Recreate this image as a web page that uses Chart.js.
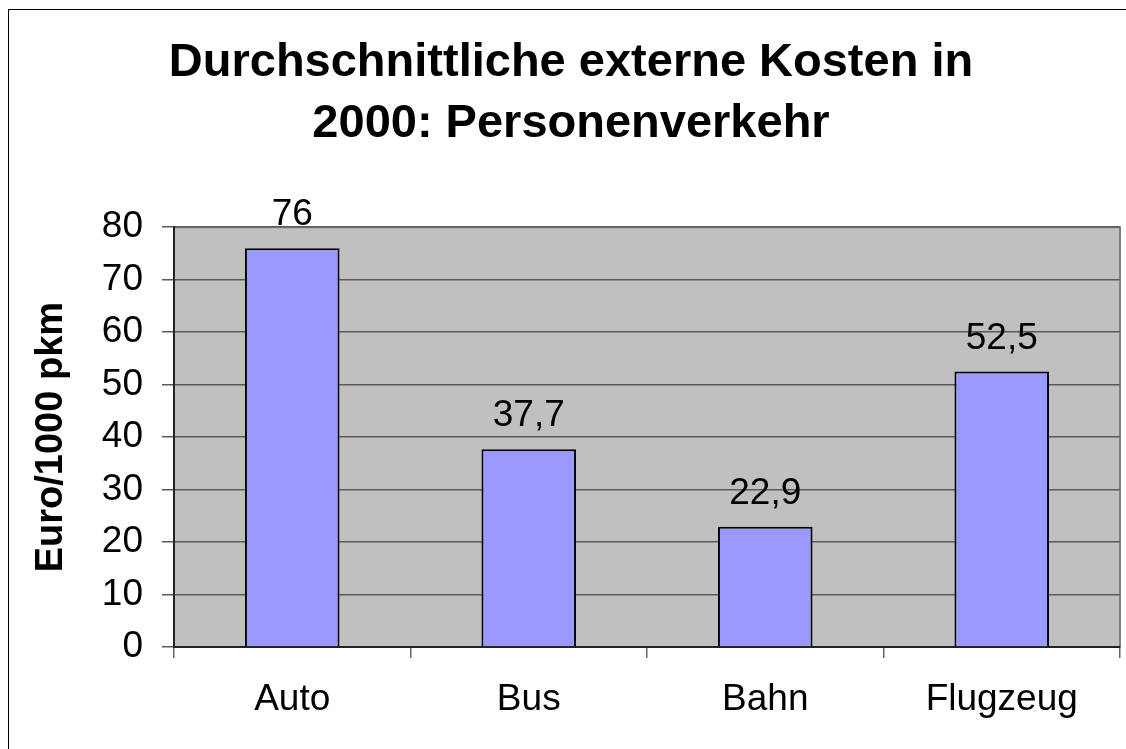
<!DOCTYPE html>
<html>
<head>
<meta charset="utf-8">
<script src="https://cdn.jsdelivr.net/npm/chart.js@4/dist/chart.umd.min.js"></script>
<style>
  html, body { margin: 0; padding: 0; background: #fff; }
  #wrap { width: 1126px; height: 749px; }
</style>
</head>
<body>
<div id="wrap"><canvas id="chart" width="1126" height="749"></canvas></div>
<script>
const categories = ["Auto", "Bus", "Bahn", "Flugzeug"];
const values = [76, 37.7, 22.9, 52.5];
const titleLines = ["Durchschnittliche externe Kosten in", "2000: Personenverkehr"];
const yTitle = "Euro/1000 pkm";

const FONT = "'Liberation Sans', Arial, sans-serif";

// Plot background, right border and outer frame
const plotBg = {
  id: "plotBg",
  beforeDraw(chart) {
    const { ctx, chartArea: a } = chart;
    ctx.save();
    ctx.fillStyle = "#c0c0c0";
    ctx.fillRect(a.left, a.top, a.right - a.left, a.bottom - a.top);
    ctx.strokeStyle = "#808080";
    ctx.lineWidth = 2;
    ctx.beginPath();
    ctx.moveTo(a.left, a.top);
    ctx.lineTo(a.right, a.top);
    ctx.lineTo(a.right, a.bottom);
    ctx.stroke();
    ctx.strokeStyle = "#000";
    ctx.lineWidth = 1;
    ctx.strokeRect(8.5, 9.5, 3000, 3000);
    ctx.restore();
  },
};

// Value labels above bars
const valueLabels = {
  id: "valueLabels",
  afterDatasetsDraw(chart) {
    const { ctx } = chart;
    const meta = chart.getDatasetMeta(0);
    ctx.save();
    ctx.font = `37px ${FONT}`;
    ctx.fillStyle = "#000";
    ctx.textAlign = "center";
    ctx.textBaseline = "alphabetic";
    meta.data.forEach((bar, i) => {
      const txt = String(values[i]).replace(".", ",");
      ctx.fillText(txt, bar.x, bar.y - 23);
    });
    ctx.restore();
  },
};

const ctx = document.getElementById("chart").getContext("2d");
new Chart(ctx, {
  type: "bar",
  data: {
    labels: categories,
    datasets: [{
      data: values,
      backgroundColor: "#9999ff",
      borderColor: "#000",
      borderWidth: 2,
      categoryPercentage: 0.4,
      barPercentage: 1,
    }],
  },
  options: {
    responsive: false,
    animation: false,
    layout: { padding: { left: 22, right: 6, top: 0, bottom: 0 } },
    plugins: {
      legend: { display: false },
      tooltip: { enabled: false },
      title: {
        display: true,
        text: titleLines,
        color: "#000",
        font: { family: FONT, size: 47, weight: "bold", lineHeight: 1.3 },
        padding: { top: 32, bottom: 73 },
      },
    },
    scales: {
      x: {
        grid: {
          offset: true,
          drawOnChartArea: false,
          drawTicks: true,
          tickLength: 11,
          color: "#666",
          lineWidth: 1.5,
        },
        border: { color: "#222", width: 2 },
        ticks: {
          color: "#000",
          font: { family: FONT, size: 37 },
          padding: 20,
          maxRotation: 0,
        },
        afterFit(scale) { scale.height = 102; },
      },
      y: {
        min: 0,
        max: 80,
        ticks: {
          stepSize: 10,
          color: "#000",
          font: { family: FONT, size: 37 },
          padding: 19,
        },
        grid: {
          color: "#5a5a5a",
          lineWidth: 1.5,
          tickLength: 12,
        },
        border: { color: "#222", width: 2 },
        title: {
          display: true,
          text: yTitle,
          color: "#000",
          font: { family: FONT, size: 38, weight: "bold" },
          padding: { top: 7, bottom: 0 },
        },
        afterFit(scale) { scale.width = 152; },
      },
    },
  },
  plugins: [plotBg, valueLabels],
});
</script>
</body>
</html>
